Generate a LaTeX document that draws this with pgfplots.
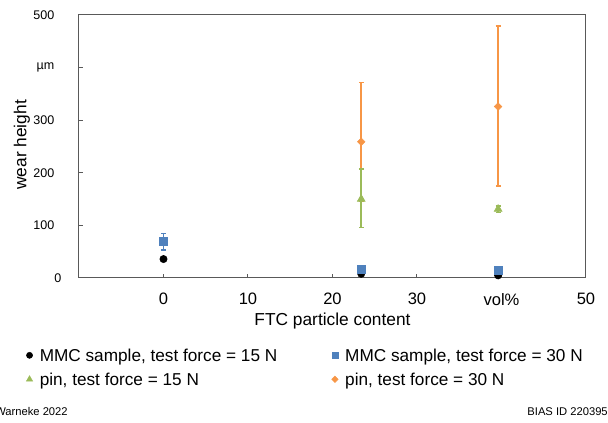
\documentclass[border=0pt]{standalone}
\usepackage{fontspec}
\setmainfont{Liberation Sans}
\usepackage{pgfplots}
\usepackage{pgfplotstable}
\pgfplotsset{compat=1.18}
\definecolor{cblue}{HTML}{4F81BD}
\definecolor{cgreen}{HTML}{9BBB59}
\definecolor{corange}{HTML}{F79646}
\definecolor{caxis}{HTML}{595959}

\pgfplotstableread{
x y ep em
0 36 0 0
23.4 8 0 0
39.6 5 0 0
}\mmcA
\pgfplotstableread{
x y ep em
0 69 16 16
23.4 17 3 3
39.6 14 2 2
}\mmcB
\pgfplotstableread{
x y ep em
23.4 150 57 54
39.6 131 6 6
}\pinA
\pgfplotstableread{
x y ep em
23.4 259 113 113
39.6 326 153 151
}\pinB

\begin{document}
\begin{tikzpicture}
\useasboundingbox (0,0) rectangle (456pt,317.25pt);
\begin{axis}[
  at={(59.25pt,108.75pt)}, anchor=south west,
  scale only axis, width=380.25pt, height=197.25pt,
  xmin=-10, xmax=50, ymin=0, ymax=500,
  xtick={0,10,20,30,40,50},
  xticklabels={0,10,20,30,vol\%,50},
  ytick={0,100,200,300,400,500},
  yticklabels={\makebox[0pt][l]{0},100,200,300,µm,500},
  tick pos=left, tick align=inside, major tick length=3pt,
  axis line style={caxis, line width=0.75pt},
  tick style={caxis, line width=0.75pt},
  xticklabel style={font=\fontsize{12.4}{14}\selectfont, yshift=-7.9pt},
  yticklabel style={font=\fontsize{9.4}{11}\selectfont, xshift=-15pt},
  xlabel={FTC particle content},
  ylabel={wear height},
  every axis x label/.style={at={(axis description cs:0.5,-0.1635)}, anchor=center, font=\fontsize{13}{15}\selectfont},
  every axis y label/.style={at={(axis description cs:-0.1125,0.506)}, anchor=center, rotate=90, font=\fontsize{13}{15}\selectfont},
  clip=false,
  legend columns=2,
  legend style={at={(axis description cs:-0.1065,-0.2677)}, anchor=north west,
    draw=none, fill=none, inner sep=0pt, font=\fontsize{12.9}{15}\selectfont,
    row sep=5.5pt,
    nodes={inner sep=0pt, text height=9.5pt, text depth=3pt, anchor=base west},
    /tikz/every odd column/.style={column sep=4.5pt},
    /tikz/every even column/.style={column sep=40pt}},
  legend image code/.code={\path (0pt,0pt) (6pt,0pt); \draw[#1] plot coordinates {(3pt,4.5pt)};},
  err/.style={error bars/.cd, y dir=both, y explicit, error mark=-,
    error mark options={rotate=90, #1, mark size=1.8pt, line width=1.1pt},
    error bar style={#1, line width=1.1pt}},
]
\addplot[only marks, mark=*, black, mark size=2.75pt, forget plot, err=black]
  table[x=x, y=y, y error plus=ep, y error minus=em] {\mmcA};
\addplot[only marks, mark=square*, cblue, mark size=3pt, forget plot, err=cblue]
  table[x=x, y=y, y error plus=ep, y error minus=em] {\mmcB};
\addplot[only marks, mark=square*, mark options={rotate=45}, corange, mark size=2pt, forget plot, err=corange]
  table[x=x, y=y, y error plus=ep, y error minus=em] {\pinB};
\addplot[only marks, mark=triangle*, cgreen, mark size=3.4pt, forget plot, err=cgreen]
  table[x=x, y=y, y error plus=ep, y error minus=em] {\pinA};

\addlegendimage{only marks, mark=*, black, mark size=2.3pt}
\addlegendentry{MMC sample, test force = 15 N}
\addlegendimage{only marks, mark=square*, cblue, mark size=2.3pt}
\addlegendentry{MMC sample, test force = 30 N}
\addlegendimage{only marks, mark=triangle*, cgreen, mark size=2.7pt}
\addlegendentry{pin, test force = 15 N}
\addlegendimage{only marks, mark=square*, mark options={rotate=45}, corange, mark size=1.7pt}
\addlegendentry{pin, test force = 30 N}
\end{axis}
\node[anchor=base west, inner sep=0pt, font=\fontsize{8.4}{10}\selectfont] at (-3.75pt,5.25pt) {Warneke 2022};
\node[anchor=base east, inner sep=0pt, font=\fontsize{8.4}{10}\selectfont] at (456pt,5.25pt) {BIAS ID 220395};
\end{tikzpicture}
\end{document}
